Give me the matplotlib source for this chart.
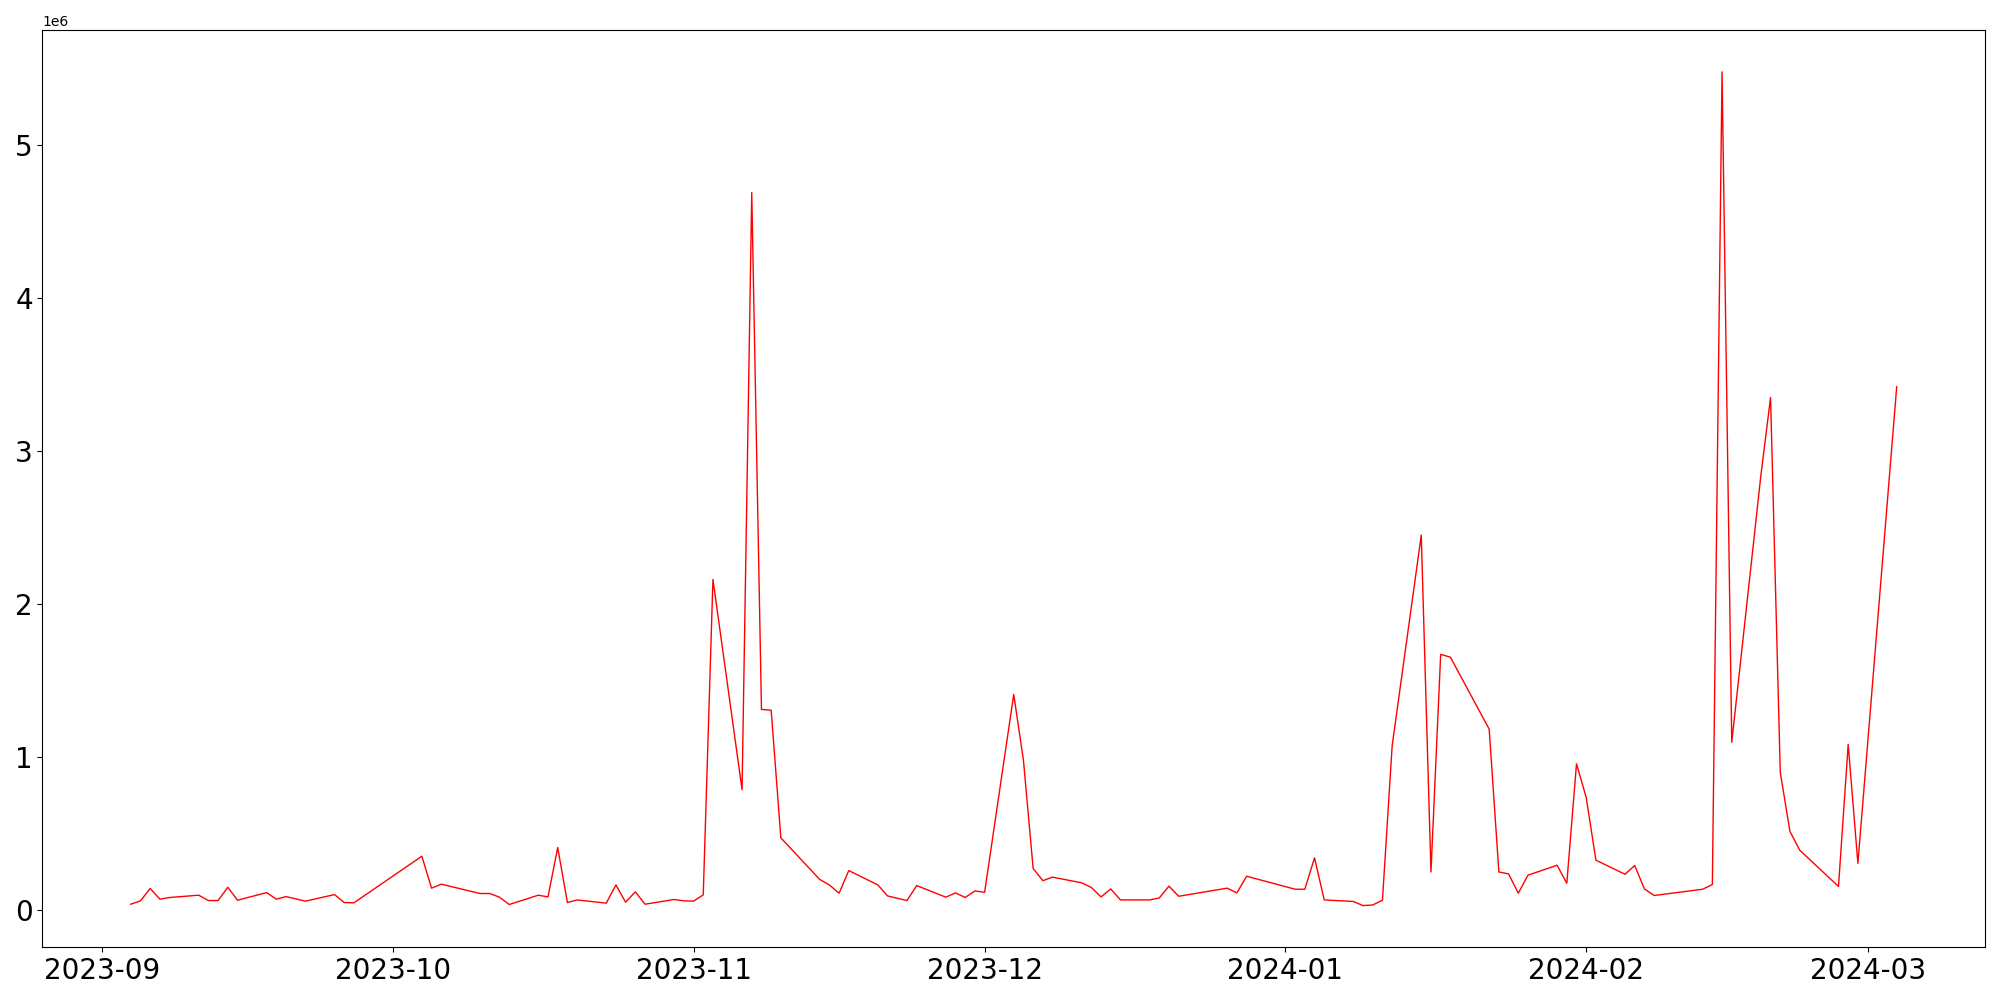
import pandas as pd
import matplotlib
matplotlib.use("Agg")
import matplotlib.pyplot as plt

dates = [
    "2023-09-04", "2023-09-05", "2023-09-06", "2023-09-07", "2023-09-08",
    "2023-09-11", "2023-09-12", "2023-09-13", "2023-09-14", "2023-09-15",
    "2023-09-18", "2023-09-19", "2023-09-20", "2023-09-22", "2023-09-25",
    "2023-09-26", "2023-09-27", "2023-10-04", "2023-10-05", "2023-10-06",
    "2023-10-10", "2023-10-11", "2023-10-12", "2023-10-13", "2023-10-16",
    "2023-10-17", "2023-10-18", "2023-10-19", "2023-10-20", "2023-10-23",
    "2023-10-24", "2023-10-25", "2023-10-26", "2023-10-27", "2023-10-30",
    "2023-10-31", "2023-11-01", "2023-11-02", "2023-11-03", "2023-11-06",
    "2023-11-07", "2023-11-08", "2023-11-09", "2023-11-10", "2023-11-14",
    "2023-11-15", "2023-11-16", "2023-11-17", "2023-11-20", "2023-11-21",
    "2023-11-23", "2023-11-24", "2023-11-27", "2023-11-28", "2023-11-29",
    "2023-11-30", "2023-12-01", "2023-12-04", "2023-12-05", "2023-12-06",
    "2023-12-07", "2023-12-08", "2023-12-11", "2023-12-12", "2023-12-13",
    "2023-12-14", "2023-12-15", "2023-12-18", "2023-12-19", "2023-12-20",
    "2023-12-21", "2023-12-26", "2023-12-27", "2023-12-28", "2024-01-02",
    "2024-01-03", "2024-01-04", "2024-01-05", "2024-01-08", "2024-01-09",
    "2024-01-10", "2024-01-11", "2024-01-12", "2024-01-15", "2024-01-16",
    "2024-01-17", "2024-01-18", "2024-01-22", "2024-01-23", "2024-01-24",
    "2024-01-25", "2024-01-26", "2024-01-29", "2024-01-30", "2024-01-31",
    "2024-02-01", "2024-02-02", "2024-02-05", "2024-02-06", "2024-02-07",
    "2024-02-08", "2024-02-13", "2024-02-14", "2024-02-15", "2024-02-16",
    "2024-02-19", "2024-02-20", "2024-02-21", "2024-02-22", "2024-02-23",
    "2024-02-27", "2024-02-28", "2024-02-29", "2024-03-04",
]

values = [
    36000, 58000, 139000, 69000, 80000,
    95000, 60000, 60000, 147000, 62000,
    112000, 69000, 86000, 56000, 99000,
    47000, 45000, 350000, 141000, 167000,
    106000, 106000, 82000, 34000, 95000,
    84000, 407000, 47000, 64000, 43000,
    162000, 49000, 117000, 36000, 67000,
    58000, 56000, 97000, 2160000, 785000,
    4690000, 1310000, 1305000, 470000, 198000,
    162000, 108000, 256000, 162000, 90000,
    60000, 158000, 82000, 110000, 80000,
    123000, 114000, 1408000, 978000, 270000,
    190000, 213000, 176000, 145000, 84000,
    136000, 64000, 64000, 77000, 154000,
    88000, 141000, 110000, 219000, 134000,
    134000, 339000, 64000, 54000, 27000,
    31000, 62000, 1072000, 2450000, 247000,
    1670000, 1652000, 1181000, 247000, 234000,
    108000, 226000, 291000, 173000, 954000,
    734000, 324000, 232000, 289000, 136000,
    93000, 134000, 165000, 5480000, 1095000,
    2840000, 3350000, 898000, 512000, 390000,
    152000, 1081000, 303000, 3420000,
]

x = pd.to_datetime(dates)

fig, ax = plt.subplots(figsize=(20, 10), dpi=100)
ax.plot(x, values, color="red", linewidth=1)
ax.tick_params(axis="both", labelsize=20)
plt.tight_layout()
plt.savefig("out.png")
